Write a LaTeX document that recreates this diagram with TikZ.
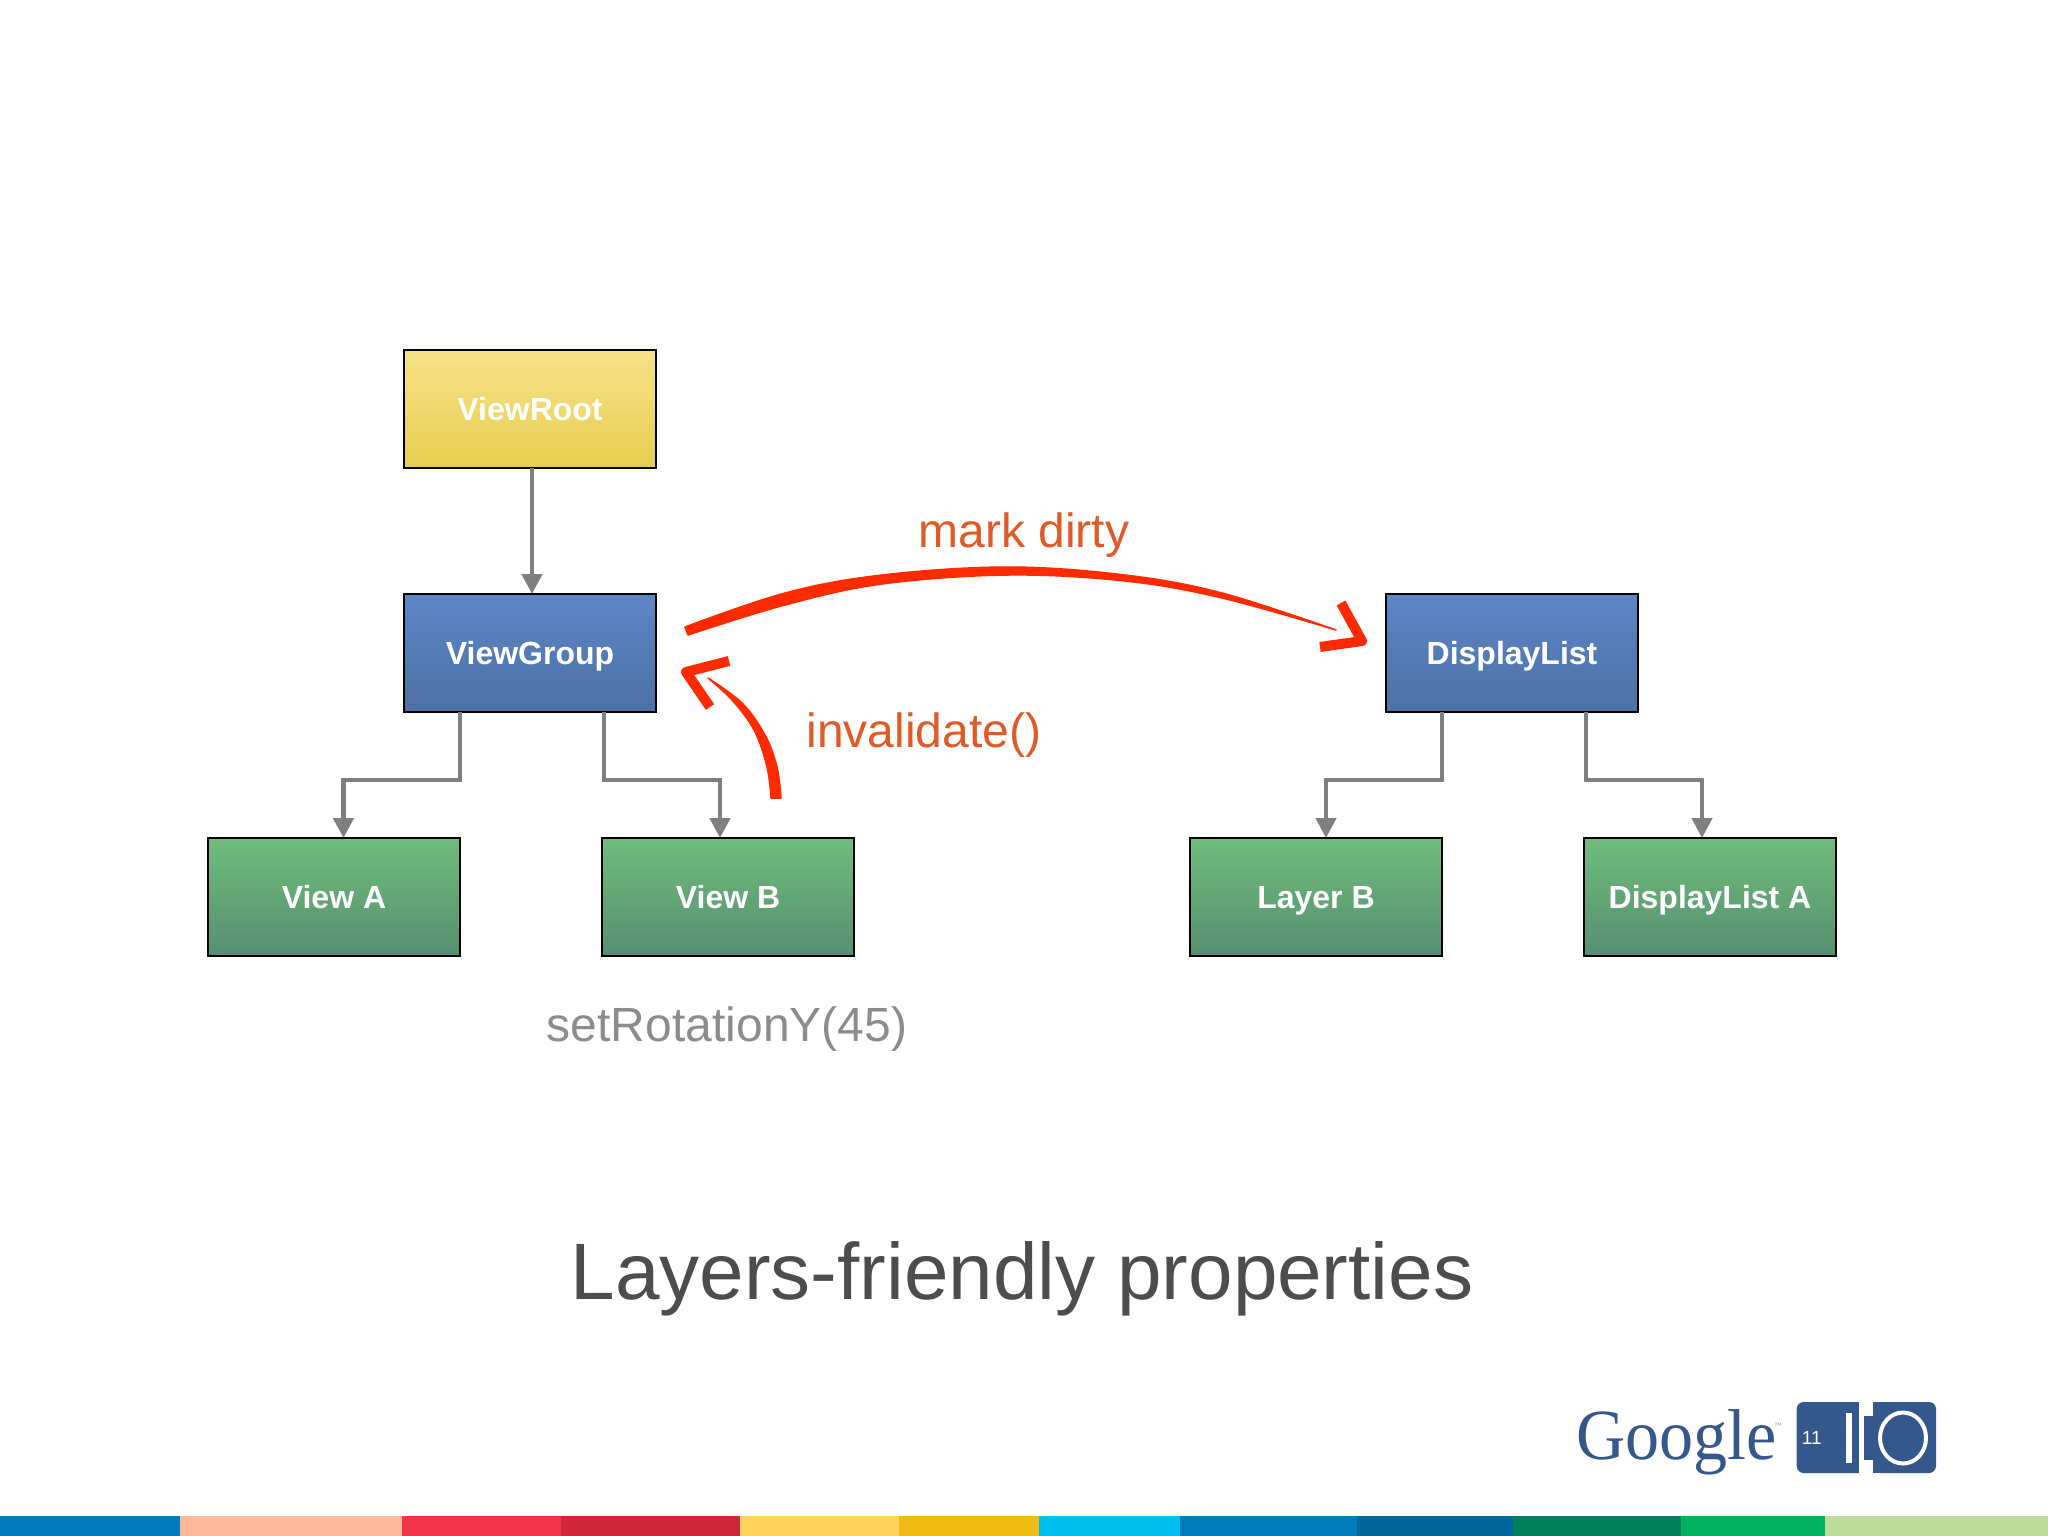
\documentclass[tikz,border=0pt]{standalone}
\usepackage{fontspec}
\setmainfont{Liberation Sans}
\newfontfamily\logoserif{Liberation Serif}
\usetikzlibrary{arrows.meta,calc}
\definecolor{redstroke}{HTML}{FF2A00}
\definecolor{orangetext}{HTML}{E05A28}
\definecolor{conngray}{HTML}{7F7F7F}
\definecolor{logoblue}{HTML}{34578C}
\definecolor{ybt}{HTML}{F6E288}
\definecolor{ybb}{HTML}{E8CE50}
\definecolor{bbt}{HTML}{5E86C8}
\definecolor{bbb}{HTML}{4C71A4}
\definecolor{gbt}{HTML}{6FBC7C}
\definecolor{gbb}{HTML}{56906F}
\newcommand{\fsz}[1]{\fontsize{#1}{#1}\selectfont}
\tikzset{
  box/.style={draw=black,line width=2.6pt,minimum width=252pt,minimum height=118pt,inner sep=0pt,outer sep=0pt,
    text=white,font=\fsz{32}\bfseries,text height=23pt,text depth=0pt},
  yellowbox/.style={box,top color=ybt,bottom color=ybb},
  bluebox/.style={box,top color=bbt,bottom color=bbb},
  greenbox/.style={box,top color=gbt,bottom color=gbb},
  conn/.style={draw=conngray,line width=4.6pt,miter limit=4,-{Triangle[length=20pt,width=20pt]}},
  redhead/.style={draw=redstroke,line width=10pt,line join=round,line cap=butt},
  redbody/.style={fill=redstroke,draw=redstroke,line width=1.5pt,line join=round},
  orangelabel/.style={text=orangetext,font=\fsz{48},anchor=base,inner sep=0pt},
}
\begin{document}
\begin{tikzpicture}[x=1pt,y=-1pt]
\useasboundingbox (0,0) rectangle (2048,1536);
\fill[white] (0,0) rectangle (2048,1536);

% boxes
\node[yellowbox] (vroot) at (530,409) {ViewRoot};
\node[bluebox] (vgroup) at (530,653) {ViewGroup};
\node[greenbox] (viewa) at (334,897) {View A};
\node[greenbox] (viewb) at (728,897) {View B};
\node[bluebox] (dlist) at (1512,653) {DisplayList};
\node[greenbox] (layerb) at (1316,897) {Layer B};
\node[greenbox] (dlista) at (1710,897) {DisplayList A};

% grey connectors
\coordinate (ka) at (343.5,780);
\coordinate (kb) at (720,780);
\coordinate (kc) at (1326,780);
\coordinate (kd) at (1702,780);
\draw[conn] ([xshift=2pt]vroot.south) -- ([xshift=2pt]vgroup.north);
\draw[conn] ([xshift=-70pt]vgroup.south) |- (ka) -- (ka |- viewa.north);
\draw[conn] ([xshift=74pt]vgroup.south) |- (kb) -- (kb |- viewb.north);
\draw[conn] ([xshift=-70pt]dlist.south) |- (kc) -- (kc |- layerb.north);
\draw[conn] ([xshift=74pt]dlist.south) |- (kd) -- (kd |- dlista.north);

% red "mark dirty" stroke
\fill[redbody] plot[smooth,tension=0.6] coordinates {(685,627)(785,593)(882,575)(1008,567)(1125,575)(1222,593)(1336,630)}
  -- plot[smooth,tension=0.6] coordinates {(1336,630)(1222,598)(1125,581)(1008,575)(882,584)(785,605)(688,635)} -- cycle;
\draw[redhead] (1341,603) -- (1362,641) -- (1320,647);

% red "invalidate" stroke
\fill[redbody] plot[smooth,tension=0.6] coordinates {(771,798)(767,767)(754,730)(732,700)(708,678)}
  -- plot[smooth,tension=0.6] coordinates {(708,678)(742,703)(765,735)(777,767)(781,798)} -- cycle;
\draw[redhead] (729,661) -- (686,672) -- (710,707);

% labels
\node[orangelabel] (markdirty) at (1024,547) {mark dirty};
\node[orangelabel] (invalid) at (924,747) {invalidate()};
\node[orangelabel,text=black!45] (setrot) at (727,1041) {setRotationY(45)};
\node[anchor=base,inner sep=0pt,text={rgb,255:red,77;green,77;blue,77},font=\fsz{80}] (title) at (1022,1299) {Layers-friendly properties};

% logo
\node[anchor=base west,inner sep=0pt,text=logoblue,font=\logoserif\fsz{72},xscale=0.945] (google) at (1576.5,1459) {Google};
\node[anchor=center,inner sep=0pt,text=black!35,font=\fsz{8}] (tm) at (1778,1426) {™};
\fill[logoblue,rounded corners=7pt] (1796.7,1402) rectangle (1875,1473);
\fill[white] (1859,1400) rectangle (1873,1475);
\fill[logoblue] (1864,1415.7) rectangle (1880,1460);
\fill[logoblue,rounded corners=7pt] (1873,1402) rectangle (1936,1473);
\fill[logoblue] (1873,1402) rectangle (1885,1473);
\fill[white] (1846,1412.7) rectangle (1852,1463);
\draw[white,line width=4pt] (1903,1438) ellipse [x radius=23pt,y radius=25.5pt];
\node[anchor=center,inner sep=0pt,text=white,font=\fsz{19}] (eleven) at (1811.7,1438) {11};

% bottom bar
\foreach \xa/\xb/\c in {0/180/0079BF,180/402/FDB999,402/561/F03349,561/740/D0273C,740/899/FED45F,899/1038.6/F2BB13,1038.6/1179.5/00BFF0,1179.5/1357/007CBC,1357/1512.6/00679A,1512.6/1681/007F5C,1681/1825/00B25F,1825/2048/BEDC9A}{
  \definecolor{barc}{HTML}{\c}
  \fill[barc] (\xa,1516) rectangle (\xb,1536);
}
\end{tikzpicture}
\end{document}
